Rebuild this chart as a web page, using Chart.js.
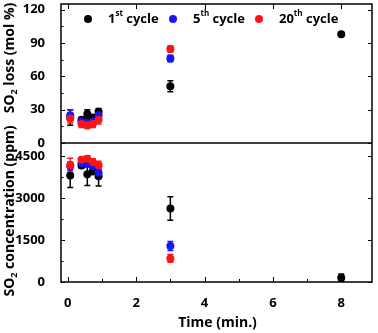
<!DOCTYPE html>
<html lang="en">
<head>
<meta charset="UTF-8">
<title>SO2 loss and concentration vs time</title>
<script src="https://cdn.jsdelivr.net/npm/chart.js"></script>
<style>
  html, body { margin: 0; padding: 0; background: #fff; }
</style>
</head>
<body>
<canvas id="so2Chart" width="378" height="333"></canvas>
<script>
// time points (min.)
const timesCycle1 = [0.07, 0.4, 0.57, 0.73, 0.9, 3, 8];
const timesCycleN = [0.07, 0.4, 0.57, 0.73, 0.9, 3];

// SO2 loss (mol %)
const lossCycle1 = [23, 21, 26, 23, 28, 51, 97.8];
const lossErr1 = [7, 2, 4, 2, 3, 5, 1.5];
const lossCycle5 = [25, 19, 18, 19, 25, 76];
const lossErr5 = [5, 3, 3, 3, 3, 3];
const lossCycle20 = [22, 17, 16, 17, 21, 84.5];
const lossErr20 = [4, 3, 3, 3, 4, 3];

// SO2 concentration (ppm)
const concCycle1 = [3820, 4170, 3860, 3960, 3790, 2630, 155];
const concErr1 = [430, 80, 400, 100, 350, 420, 130];
const concCycle5 = [4150, 4260, 4240, 4160, 3910, 1290];
const concErr5 = [150, 100, 120, 150, 150, 160];
const concCycle20 = [4180, 4380, 4420, 4300, 4180, 845];
const concErr20 = [250, 80, 100, 120, 150, 140];

const xTicks = [0, 2, 4, 6, 8];
const lossTicks = [0, 30, 60, 90, 120];
const concTicks = [0, 1500, 3000, 4500];

const cycleNames = [['1', 'st'], ['5', 'th'], ['20', 'th']];
const colors = ['#000000', '#1414ff', '#ff1414'];

function pts(xs, ys) {
    return xs.map((x, i) => ({ x: x, y: ys[i] }));
}

function makeSet(label, xs, ys, errs, color, axis, order) {
    return {
        label: label,
        data: pts(xs, ys),
        errors: errs,
        yAxisID: axis,
        backgroundColor: color,
        borderColor: color,
        borderWidth: 0,
        pointRadius: 4,
        pointHoverRadius: 4,
        order: order
    };
}

const FONT = '"Open Sans", sans-serif';

// text with sub/superscript parts, drawn from the current origin
function drawParts(ctx, parts, size, align) {
    const widths = parts.map(p => {
        ctx.font = 'bold ' + (p.s ? Math.round(size * 0.65) : size) + 'px ' + FONT;
        return ctx.measureText(p.t).width;
    });
    const total = widths.reduce((a, b) => a + b, 0);
    let x = align === 'left' ? 0 : -total / 2;
    parts.forEach((p, i) => {
        ctx.font = 'bold ' + (p.s ? Math.round(size * 0.65) : size) + 'px ' + FONT;
        let dy = 0;
        if (p.s === 'sub') dy = size * 0.3;
        if (p.s === 'sup') dy = -size * 0.4;
        ctx.fillText(p.t, x, dy);
        x += widths[i];
    });
    return total;
}

const errorBarPlugin = {
    id: 'errorBars',
    beforeDatasetsDraw(chart) {
        const ctx = chart.ctx;
        ctx.save();
        ctx.lineWidth = 1.5;
        chart.data.datasets.forEach((ds, i) => {
            const meta = chart.getDatasetMeta(i);
            const ys = chart.scales[ds.yAxisID];
            ctx.strokeStyle = ds.borderColor;
            meta.data.forEach((el, j) => {
                const v = ds.data[j].y;
                const e = ds.errors[j];
                const top = ys.getPixelForValue(v + e);
                const bot = ys.getPixelForValue(v - e);
                ctx.beginPath();
                ctx.moveTo(el.x, top); ctx.lineTo(el.x, bot);
                ctx.moveTo(el.x - 3, top); ctx.lineTo(el.x + 3, top);
                ctx.moveTo(el.x - 3, bot); ctx.lineTo(el.x + 3, bot);
                ctx.stroke();
            });
        });
        ctx.restore();
    }
};

const framePlugin = {
    id: 'panelFrame',
    afterDraw(chart) {
        const ctx = chart.ctx;
        const a = chart.chartArea;
        const xs = chart.scales.x;
        const y1 = chart.scales.yLoss;
        const y2 = chart.scales.yConc;
        ctx.save();
        ctx.strokeStyle = '#000';
        ctx.lineWidth = 1.5;
        ctx.strokeRect(a.left, a.top, a.right - a.left, a.bottom - a.top);
        const mid = y1.bottom;
        ctx.beginPath();
        ctx.moveTo(a.left, mid); ctx.lineTo(a.right, mid);
        ctx.stroke();

        // inward tick marks
        ctx.lineWidth = 1;
        ctx.beginPath();
        xTicks.forEach(v => {
            const p = Math.round(xs.getPixelForValue(v)) + 0.5;
            ctx.moveTo(p, a.bottom); ctx.lineTo(p, a.bottom - 5);
            ctx.moveTo(p, a.top); ctx.lineTo(p, a.top + 5);
        });
        [1, 3, 5, 7].forEach(v => {
            const p = Math.round(xs.getPixelForValue(v)) + 0.5;
            ctx.moveTo(p, a.bottom); ctx.lineTo(p, a.bottom - 3);
        });
        const yTick = (scale, majors, minors) => {
            majors.forEach(v => {
                const p = Math.round(scale.getPixelForValue(v)) + 0.5;
                ctx.moveTo(a.left, p); ctx.lineTo(a.left + 4, p);
                ctx.moveTo(a.right, p); ctx.lineTo(a.right - 4, p);
            });
            minors.forEach(v => {
                const p = Math.round(scale.getPixelForValue(v)) + 0.5;
                ctx.moveTo(a.left, p); ctx.lineTo(a.left + 2.5, p);
            });
        };
        yTick(y1, lossTicks, [15, 45, 75, 105]);
        yTick(y2, concTicks, [750, 2250, 3750]);
        ctx.stroke();

        // axis titles
        ctx.fillStyle = '#000';
        ctx.textBaseline = 'middle';
        ctx.textAlign = 'left';
        ctx.save();
        ctx.translate(10, 58);
        ctx.rotate(-Math.PI / 2);
        drawParts(ctx, [{ t: 'SO' }, { t: '2', s: 'sub' }, { t: ' loss (mol %)' }], 14);
        ctx.restore();
        ctx.save();
        ctx.translate(10, 211);
        ctx.rotate(-Math.PI / 2);
        drawParts(ctx, [{ t: 'SO' }, { t: '2', s: 'sub' }, { t: ' concentration (ppm)' }], 14);
        ctx.restore();
        ctx.save();
        ctx.translate((a.left + a.right) / 2 + 1, 323);
        drawParts(ctx, [{ t: 'Time (min.)' }], 14);
        ctx.restore();

        // legend
        const dotX = [88, 173, 259];
        const textX = [108, 193, 279];
        cycleNames.forEach((n, i) => {
            ctx.fillStyle = colors[i];
            ctx.beginPath();
            ctx.arc(dotX[i], 19, 4, 0, Math.PI * 2);
            ctx.fill();
            ctx.fillStyle = '#000';
            ctx.save();
            ctx.translate(textX[i], 19);
            drawParts(ctx, [{ t: n[0] }, { t: n[1], s: 'sup' }, { t: ' cycle' }], 13, 'left');
            ctx.restore();
        });
        ctx.restore();
    }
};

const tickFont = { family: FONT, size: 13, weight: 'bold' };
const plain = v => String(v);
const noPadY = s => { s.width = 61; s.paddingTop = 0; s.paddingBottom = 0; };

new Chart(document.getElementById('so2Chart'), {
    type: 'scatter',
    data: {
        datasets: [
            makeSet('1st cycle loss', timesCycle1, lossCycle1, lossErr1, colors[0], 'yLoss', 2),
            makeSet('5th cycle loss', timesCycleN, lossCycle5, lossErr5, colors[1], 'yLoss', 1),
            makeSet('20th cycle loss', timesCycleN, lossCycle20, lossErr20, colors[2], 'yLoss', 0),
            makeSet('1st cycle conc', timesCycle1, concCycle1, concErr1, colors[0], 'yConc', 2),
            makeSet('5th cycle conc', timesCycleN, concCycle5, concErr5, colors[1], 'yConc', 1),
            makeSet('20th cycle conc', timesCycleN, concCycle20, concErr20, colors[2], 'yConc', 0)
        ]
    },
    options: {
        responsive: false,
        animation: false,
        devicePixelRatio: 1,
        layout: { padding: { top: 4, right: 6, left: 0, bottom: 0 } },
        plugins: {
            legend: { display: false },
            tooltip: { enabled: false }
        },
        scales: {
            x: {
                type: 'linear',
                min: -0.2,
                max: 8.9,
                grid: { display: false },
                border: { display: false },
                ticks: { font: tickFont, color: '#000', padding: 5, callback: plain },
                afterBuildTicks: s => { s.ticks = xTicks.map(v => ({ value: v })); },
                afterFit: s => { s.height = 51; s.paddingLeft = 0; s.paddingRight = 0; }
            },
            yConc: {
                type: 'linear',
                position: 'left',
                stack: 'panels',
                stackWeight: 1,
                min: 0,
                max: 4980,
                grid: { display: false },
                border: { display: false },
                ticks: { font: tickFont, color: '#000', padding: 8, callback: plain },
                afterBuildTicks: s => { s.ticks = concTicks.map(v => ({ value: v })); },
                afterFit: noPadY
            },
            yLoss: {
                type: 'linear',
                position: 'left',
                stack: 'panels',
                stackWeight: 1,
                min: 0,
                max: 125,
                grid: { display: false },
                border: { display: false },
                ticks: { font: tickFont, color: '#000', padding: 8, callback: plain },
                afterBuildTicks: s => { s.ticks = lossTicks.map(v => ({ value: v })); },
                afterFit: noPadY
            }
        }
    },
    plugins: [errorBarPlugin, framePlugin]
});
</script>
</body>
</html>
